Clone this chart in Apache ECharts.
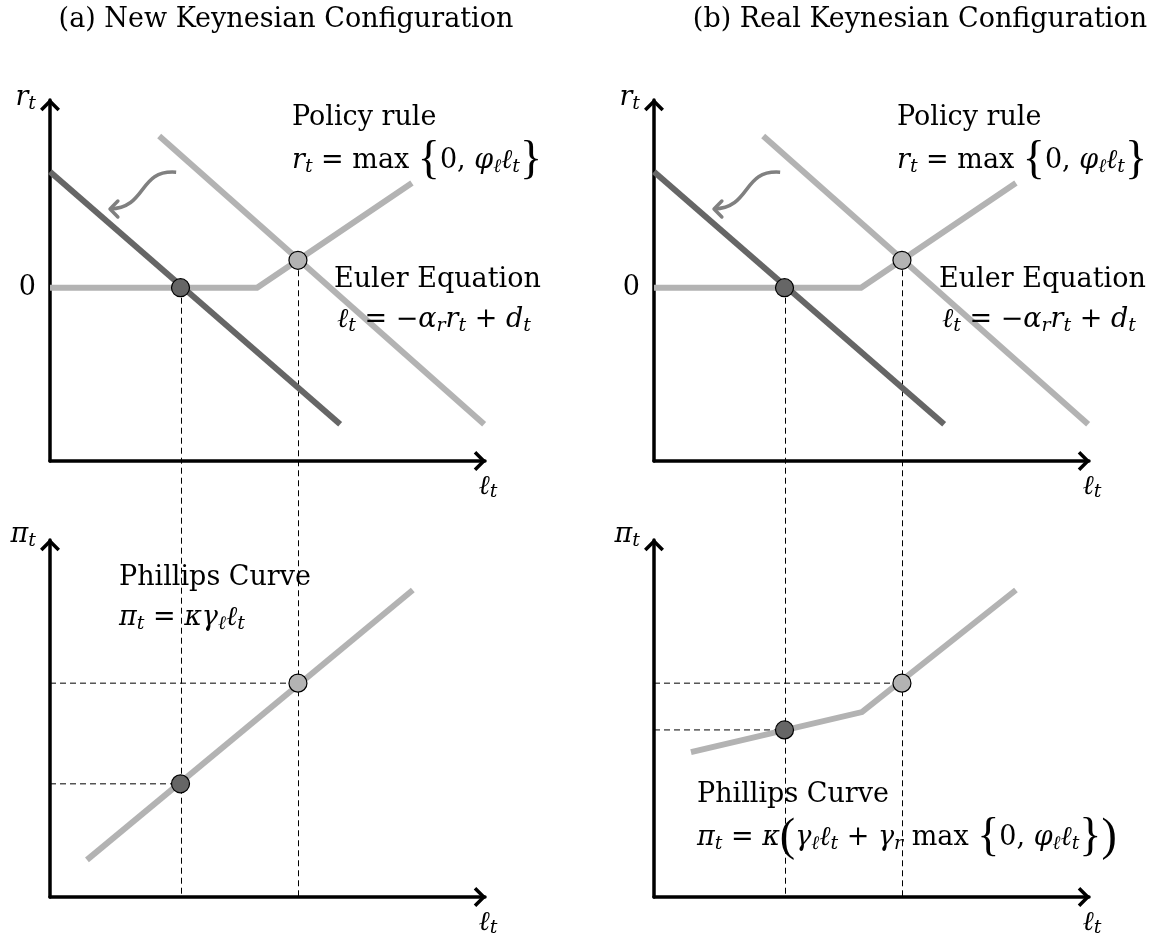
<!DOCTYPE html>
<html>
<head>
<meta charset="utf-8">
<script src="https://cdn.jsdelivr.net/npm/echarts@6/dist/echarts.min.js"></script>
<style>html,body{margin:0;padding:0;background:#fff}#c{width:1159px;height:941px}</style>
</head>
<body>
<div id="c"></div>
<script>
// ---------------- data ----------------
const panelTitles = ['(a) New Keynesian Configuration', '(b) Real Keynesian Configuration'];
// top panels: policy rule r = max{0, phi*l}
const policyX = [0, 47.6, 83.2];
const policyR = [0, 0, 29];
// Euler equation before (light) and after (dark) the demand shock
const eulerOldX = [25.1, 99.8];
const eulerOldR = [42.0, -37.8];
const eulerNewX = [0, 66.7];
const eulerNewR = [32.1, -37.8];
// equilibria: [ZLB equilibrium, normal equilibrium]
const eqX = [30, 57];
const eqR = [0, 7.6];
// bottom panel (a): linear Phillips curve
const pcNkX = [8.5, 83.4];
const pcNkPi = [10.4, 86.0];
const eqPiNk = [31.7, 59.9];
// bottom panel (b): kinked Phillips curve
const pcRkX = [8.5, 47.8, 83.2];
const pcRkPi = [40.6, 51.8, 86.0];
const eqPiRk = [46.8, 59.9];
// shift arrow (bezier control points, top-panel data units)
const shiftArrow = [[29, 32], [20.2, 32.8], [22.5, 22.2], [13.8, 21.8]];
const shiftHead = [[15.6, 24.0], [13.8, 21.8], [15.6, 19.6]];

// ---------------- style ----------------
const FF = '"DejaVu Serif", "Liberation Serif", serif';
const BRACE_FF = '"Liberation Serif", "DejaVu Serif", serif';
const LIGHT = '#b3b3b3', DARK = '#666666', ARROW = '#808080';
const rich = {
  rm: {fontFamily: FF, fontSize: 27, fontStyle: 'normal', color: '#000', fill: '#000'},
  it: {fontFamily: FF, fontSize: 27, fontStyle: 'italic', color: '#000', fill: '#000'},
  sub: {fontFamily: FF, fontSize: 19, fontStyle: 'italic', color: '#000', fill: '#000', padding: [12, 0, 0, 0]}
};
const CHEV = 'path://M0,10 L10,0 L20,10 L17.5,12.5 L10,5 L2.5,12.5 Z';

const grids = [
  {left: 50, top: 100, width: 435, height: 361},
  {left: 50, top: 540, width: 435, height: 357},
  {left: 654, top: 100, width: 435, height: 361},
  {left: 654, top: 540, width: 435, height: 357}
];

function axisLine() {
  return {show: true, onZero: false, lineStyle: {color: '#000', width: 3.5},
          symbol: ['none', CHEV], symbolSize: [20, 12.5], symbolOffset: [0, -5]};
}
const xAxes = grids.map((g, i) => ({
  type: 'value', gridIndex: i, min: 0, max: 100,
  axisLine: axisLine(), axisTick: {show: false}, axisLabel: {show: false}, splitLine: {show: false},
  name: '{it|ℓ}{sub|t}', nameLocation: 'end', nameGap: 3,
  nameTextStyle: {align: 'center', verticalAlign: 'top', padding: [10, 0, 0, 0], rich: rich}
}));
const yAxes = grids.map((g, i) => {
  const top = i % 2 === 0;
  return {
    type: 'value', gridIndex: i, min: top ? -48 : 0, max: top ? 52 : 100, interval: 4,
    axisLine: axisLine(), axisTick: {show: false}, splitLine: {show: false},
    axisLabel: {show: top, formatter: v => (v === 0 ? '0' : ''), margin: 14,
                fontFamily: FF, fontSize: 27, color: '#000'},
    name: top ? '{it|r}{sub|t}' : '{it|π}{sub|t}', nameLocation: 'end', nameGap: top ? 2 : 5,
    nameTextStyle: {align: 'right', verticalAlign: 'middle', padding: [0, 14, 0, 0], rich: rich}
  };
});

function lineSeries(gi, xs, ys, color, z) {
  return {type: 'line', xAxisIndex: gi, yAxisIndex: gi, data: xs.map((x, k) => [x, ys[k]]),
          showSymbol: false, symbol: 'none', silent: true, animation: false, z: z || 2,
          lineStyle: {color: color, width: 6, cap: 'butt', join: 'miter'}};
}
function dashH(gi, x, y) {
  return {type: 'line', xAxisIndex: gi, yAxisIndex: gi, data: [[0, y], [x, y]],
          showSymbol: false, symbol: 'none', silent: true, animation: false, z: 1,
          lineStyle: {color: '#000', width: 1, type: [6, 4]}};
}
function points(gi, xs, ys) {
  return {type: 'scatter', xAxisIndex: gi, yAxisIndex: gi, symbolSize: 18, silent: true,
          animation: false, z: 5,
          data: xs.map((x, k) => ({value: [x, ys[k]],
            itemStyle: {color: k === 0 ? DARK : LIGHT, borderColor: '#000', borderWidth: 1.2, opacity: 1}}))};
}

const series = [];
[0, 2].forEach(gi => {
  series.push(lineSeries(gi, policyX, policyR, LIGHT, 2));
  series.push(lineSeries(gi, eulerOldX, eulerOldR, LIGHT, 3));
  series.push(lineSeries(gi, eulerNewX, eulerNewR, DARK, 4));
  series.push(points(gi, eqX, eqR));
});
series.push(lineSeries(1, pcNkX, pcNkPi, LIGHT, 2));
series.push(dashH(1, eqX[0], eqPiNk[0]));
series.push(dashH(1, eqX[1], eqPiNk[1]));
series.push(points(1, eqX, eqPiNk));
series.push(lineSeries(3, pcRkX, pcRkPi, LIGHT, 2));
series.push(dashH(3, eqX[0], eqPiRk[0]));
series.push(dashH(3, eqX[1], eqPiRk[1]));
series.push(points(3, eqX, eqPiRk));

const chart = echarts.init(document.getElementById('c'), null, {renderer: 'canvas'});
chart.setOption({
  backgroundColor: '#fff',
  animation: false,
  grid: grids.map(g => Object.assign({outerBoundsMode: 'none', containLabel: false}, g)),
  xAxis: xAxes,
  yAxis: yAxes,
  series: series
});

// ---------------- annotations ----------------
function txt(x, y, text) {
  return {type: 'text', z: 10, silent: true, style: {
    x: x, y: y, text: text, fontFamily: FF, fontSize: 27, fill: '#000',
    align: 'left', verticalAlign: 'middle', textAlign: 'left', textVerticalAlign: 'middle', rich: rich
  }};
}
function bigTxt(x, y, text) {
  const t = txt(x, y, text);
  t.style.fontSize = 46;
  t.style.fontFamily = BRACE_FF;
  return t;
}
const policyF = '{it|r}{sub|t}{rm| = max }{{rm|0, }{it|φ}{sub|ℓ}{it|ℓ}{sub|t}}';
const eulerF = '{it|ℓ}{sub|t}{rm| = −}{it|α}{sub|r}{it|r}{sub|t}{rm| + }{it|d}{sub|t}';
const pcNkF = '{it|π}{sub|t}{rm| = }{it|κγ}{sub|ℓ}{it|ℓ}{sub|t}';
const pcRkF = '{it|π}{sub|t}{rm| = }{it|κ}({it|γ}{sub|ℓ}{it|ℓ}{sub|t}{rm| + }{it|γ}{sub|r}{rm| max }{{rm|0, }{it|φ}{sub|ℓ}{it|ℓ}{sub|t}})';

const g = [];
const titleT1 = txt(286, 20, panelTitles[0]); titleT1.style.align = titleT1.style.textAlign = 'center';
const titleT2 = txt(920, 20, panelTitles[1]); titleT2.style.align = titleT2.style.textAlign = 'center';
g.push(titleT1, titleT2);
[0, 605].forEach(dx => {
  g.push(txt(292 + dx, 118, 'Policy rule'));
  g.push(bigTxt(292 + dx, 161, policyF));
  g.push(txt(334 + dx, 280, 'Euler Equation'));
  g.push(bigTxt(337 + dx, 320, eulerF));
});
g.push(txt(119, 578, 'Phillips Curve'));
g.push(bigTxt(119, 618, pcNkF));
g.push(txt(697, 795, 'Phillips Curve'));
g.push(bigTxt(697, 838, pcRkF));

[0, 1].forEach(p => {
  const top = p * 2, bot = p * 2 + 1;
  for (let k = 0; k < 2; k++) {
    const a = chart.convertToPixel({gridIndex: top}, [eqX[k], eqR[k]]);
    const b = chart.convertToPixel({gridIndex: bot}, [eqX[k], 0]);
    g.push({type: 'line', z: 1, silent: true,
            shape: {x1: Math.round(a[0]) + 0.5, y1: a[1], x2: Math.round(b[0]) + 0.5, y2: b[1]},
            style: {stroke: '#000', lineWidth: 1, lineDash: [6, 4]}});
  }
  const c = shiftArrow.map(pt => chart.convertToPixel({gridIndex: top}, pt));
  g.push({type: 'bezierCurve', z: 6, silent: true,
          shape: {x1: c[0][0], y1: c[0][1], cpx1: c[1][0], cpy1: c[1][1],
                  cpx2: c[2][0], cpy2: c[2][1], x2: c[3][0], y2: c[3][1]},
          style: {stroke: ARROW, lineWidth: 3.5, fill: 'none'}});
  const h = shiftHead.map(pt => chart.convertToPixel({gridIndex: top}, pt));
  g.push({type: 'polyline', z: 6, silent: true, shape: {points: h},
          style: {stroke: ARROW, lineWidth: 3.5, fill: 'none', lineCap: 'round', lineJoin: 'round'}});
});
chart.setOption({graphic: {elements: g}});
</script>
</body>
</html>
